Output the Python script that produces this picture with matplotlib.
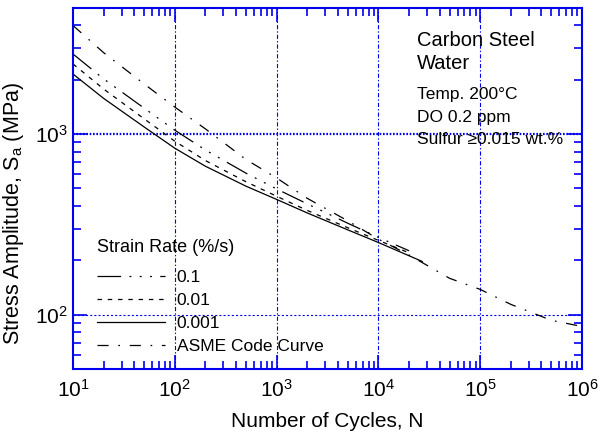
import matplotlib
matplotlib.use("Agg")
import matplotlib.pyplot as plt

plt.rcParams["font.family"] = ["Liberation Sans", "DejaVu Sans"]
plt.rcParams["mathtext.fontset"] = "custom"
plt.rcParams["mathtext.rm"] = "Liberation Sans"
plt.rcParams["mathtext.it"] = "Liberation Sans:italic"
plt.rcParams["lines.scale_dashes"] = False

# fatigue curves (N cycles, stress amplitude MPa)
n_exp = [10, 20, 50, 100, 200, 500, 1000, 2000, 5000, 10000, 20000]
s_01 = [2780, 2023, 1393, 1052, 817, 608, 497, 411, 321, 268, 226]
s_001 = [2449, 1778, 1216, 914, 714, 545, 453, 378, 303, 258, 220]

n_0001 = [10, 20, 50, 100, 200, 500, 1000, 2000, 5000, 10000, 27000]
s_0001 = [2153, 1578, 1096, 836, 664, 515, 435, 366, 295, 251, 197]

n_asme = [10, 20, 50, 100, 200, 500, 1000, 2000, 5000, 10000, 20000,
          50000, 100000, 200000, 500000, 1000000]
s_asme = [4000, 2827, 1897, 1413, 1069, 724, 572, 441, 331, 262, 214,
          159, 138, 114, 93, 86]

labels = ["0.1", "0.01", "0.001", "ASME Code Curve"]
notes = ["Temp. 200\u00b0C", "DO 0.2 ppm", "Sulfur \u22650.015 wt.%"]

blue = "#0000ee"

fig = plt.figure(figsize=(6, 4.4), dpi=100)
ax = fig.add_axes([0.1217, 0.1614, 0.8483, 0.8204])

ax.plot(n_exp, s_01, color="k", lw=0.9,
        dashes=(17, 6, 1.4, 6, 1.4, 6, 1.4, 6), label=labels[0])
ax.plot(n_exp, s_001, color="k", lw=0.9, dashes=(3.2, 4.2), label=labels[1])
ax.plot(n_0001, s_0001, color="k", lw=0.9, label=labels[2])
ax.plot(n_asme, s_asme, color="k", lw=0.9,
        dashes=(8, 7, 1.2, 7), label=labels[3])

ax.set_xscale("log")
ax.set_yscale("log")
ax.set_xlim(10, 1e6)
ax.set_ylim(50, 5000)

# grid lines
for v in [1e2, 1e3, 1e4, 1e5]:
    ax.axvline(v, color=blue, lw=0.8, dashes=(3, 1.5, 1, 1.5), zorder=0)
ax.axhline(1e3, color=blue, lw=1.6, dashes=(1.2, 1.2), zorder=0)
ax.axhline(1e2, color=blue, lw=0.8, dashes=(1.5, 1.5), zorder=0)

for sp in ax.spines.values():
    sp.set_color(blue)
    sp.set_linewidth(1.5)

ax.tick_params(which="both", direction="in", color=blue, top=True, right=True,
               labelsize=15, pad=7)
ax.tick_params(which="major", length=10, width=1.2)
ax.tick_params(which="minor", length=6, width=1.2)
ax.tick_params(axis="y", which="major", pad=4)

ax.set_xlabel("Number of Cycles, N", fontsize=15, labelpad=8)
ax.set_ylabel("Stress Amplitude, S$_{\\mathregular{a}}$ (MPa)", fontsize=15.5)
ax.yaxis.set_label_coords(-0.092, 0.43)

ax.text(0.676, 0.895, "Carbon Steel", transform=ax.transAxes,
        fontsize=14.5, va="baseline")
ax.text(0.676, 0.831, "Water", transform=ax.transAxes,
        fontsize=14.5, va="baseline")
for i, t in enumerate(notes):
    ax.text(0.676, 0.748 - i * 0.0625, t, transform=ax.transAxes,
            fontsize=12.5, va="baseline")

ax.text(0.047, 0.324, "Strain Rate (%/s)", transform=ax.transAxes,
        fontsize=13, va="baseline")
leg = ax.legend(loc="lower left", bbox_to_anchor=(0.047, 0.042),
                frameon=False, fontsize=12.5,
                handlelength=3.9, handletextpad=0.7,
                labelspacing=0.45, borderpad=0, borderaxespad=0)

fig.savefig("out.png", dpi=100)
